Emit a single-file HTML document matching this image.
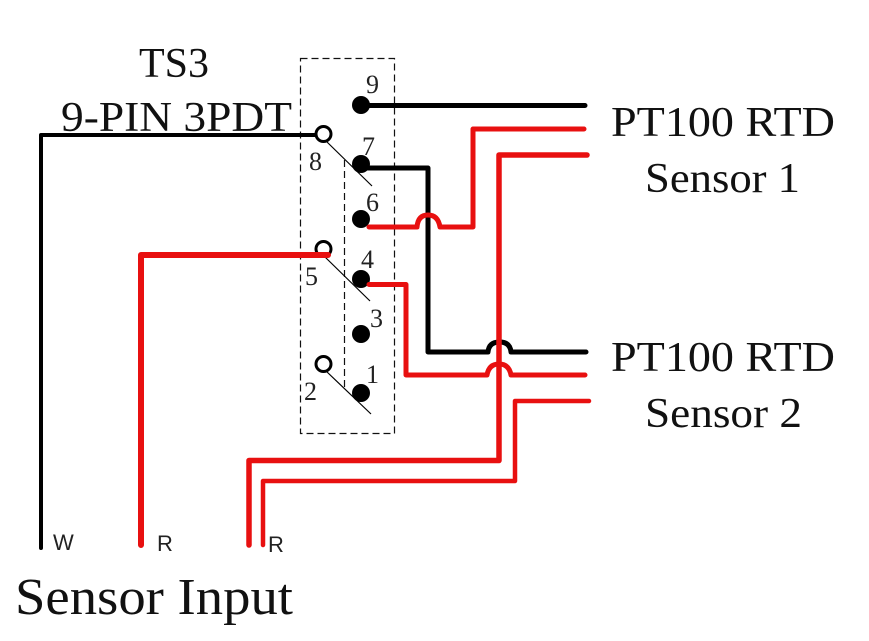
<!DOCTYPE html>
<html>
<head>
<meta charset="utf-8">
<style>
html,body{margin:0;padding:0;background:#fff;width:869px;height:641px;overflow:hidden}
svg{display:block}
.s{font-family:"Liberation Serif",serif;fill:#111}
.a{font-family:"Liberation Sans",sans-serif;fill:#222;font-size:22px}
.n{font-family:"Liberation Serif",serif;fill:#222;font-size:26px}
</style>
</head>
<body>
<svg width="869" height="641" viewBox="0 0 869 641" xmlns="http://www.w3.org/2000/svg">
<rect width="869" height="641" fill="#fff"/>
<g fill="none" stroke="#111" stroke-width="1.2" stroke-dasharray="7 4">
<rect x="300.5" y="58.5" width="94" height="375"/>
<line x1="344.5" y1="160" x2="344.5" y2="388"/>
</g>
<g fill="none" stroke="#000" stroke-width="1.2">
<line x1="327" y1="142" x2="372" y2="186"/>
<line x1="325" y1="257" x2="370" y2="301"/>
<line x1="326" y1="371" x2="371" y2="414"/>
</g>
<g fill="none" stroke="#000" stroke-width="5" stroke-linejoin="round" stroke-linecap="round">
<path d="M361 105.500H585"/>
<path d="M361 168H428V352H488Q489 342 499.500 342Q510 342 511 352H586"/>
<path d="M41 548V135H316" stroke-width="4"/>
</g>
<g fill="#000">
<circle cx="361" cy="105" r="9"/>
<circle cx="361" cy="164" r="9"/>
<circle cx="361" cy="219" r="9"/>
<circle cx="361" cy="279" r="9"/>
<circle cx="361" cy="334" r="9"/>
<circle cx="361" cy="393" r="9"/>
</g>
<g fill="#fff" stroke="#000" stroke-width="3">
<circle cx="323.500" cy="134" r="7.500"/>
<circle cx="323.500" cy="249" r="7.500"/>
<circle cx="323.500" cy="364" r="7.500"/>
</g>
<g fill="none" stroke="#e81010" stroke-linejoin="round" stroke-linecap="round">
<path d="M141 545V255H328" stroke-width="6"/>
<path d="M369 227H417Q418 215 428 215Q438 215 440 227H473V129H584" stroke-width="5"/>
<path d="M369 284.500H406V375H487Q489 364 499 364Q509 364 511 375H585" stroke-width="5"/>
<path d="M249 545V460.500H499V155H587" stroke-width="5.500"/>
<path d="M263 545V481H515V401H589" stroke-width="4.500"/>
</g>
<g class="s" font-size="42">
<text class="s" x="139" y="77">TS3</text>
<text class="s" x="61" y="131" textLength="231" lengthAdjust="spacingAndGlyphs">9-PIN 3PDT</text>
<text class="s" x="611" y="136" textLength="224" lengthAdjust="spacingAndGlyphs">PT100 RTD</text>
<text class="s" x="645" y="192" textLength="155" lengthAdjust="spacingAndGlyphs">Sensor 1</text>
<text class="s" x="611" y="371" textLength="224" lengthAdjust="spacingAndGlyphs">PT100 RTD</text>
<text class="s" x="645" y="427" textLength="157" lengthAdjust="spacingAndGlyphs">Sensor 2</text>
<text class="s" x="15" y="614" font-size="52" textLength="278" lengthAdjust="spacingAndGlyphs">Sensor Input</text>
</g>
<text class="n" x="366" y="93">9</text>
<text class="n" x="362" y="155">7</text>
<text class="n" x="309" y="170">8</text>
<text class="n" x="366" y="211">6</text>
<text class="n" x="361" y="268">4</text>
<text class="n" x="305" y="285">5</text>
<text class="n" x="370" y="327">3</text>
<text class="n" x="366" y="383">1</text>
<text class="n" x="304" y="400">2</text>
<text class="a" x="53" y="550">W</text>
<text class="a" x="157" y="551">R</text>
<text class="a" x="268" y="552">R</text>
</svg>
</body>
</html>
